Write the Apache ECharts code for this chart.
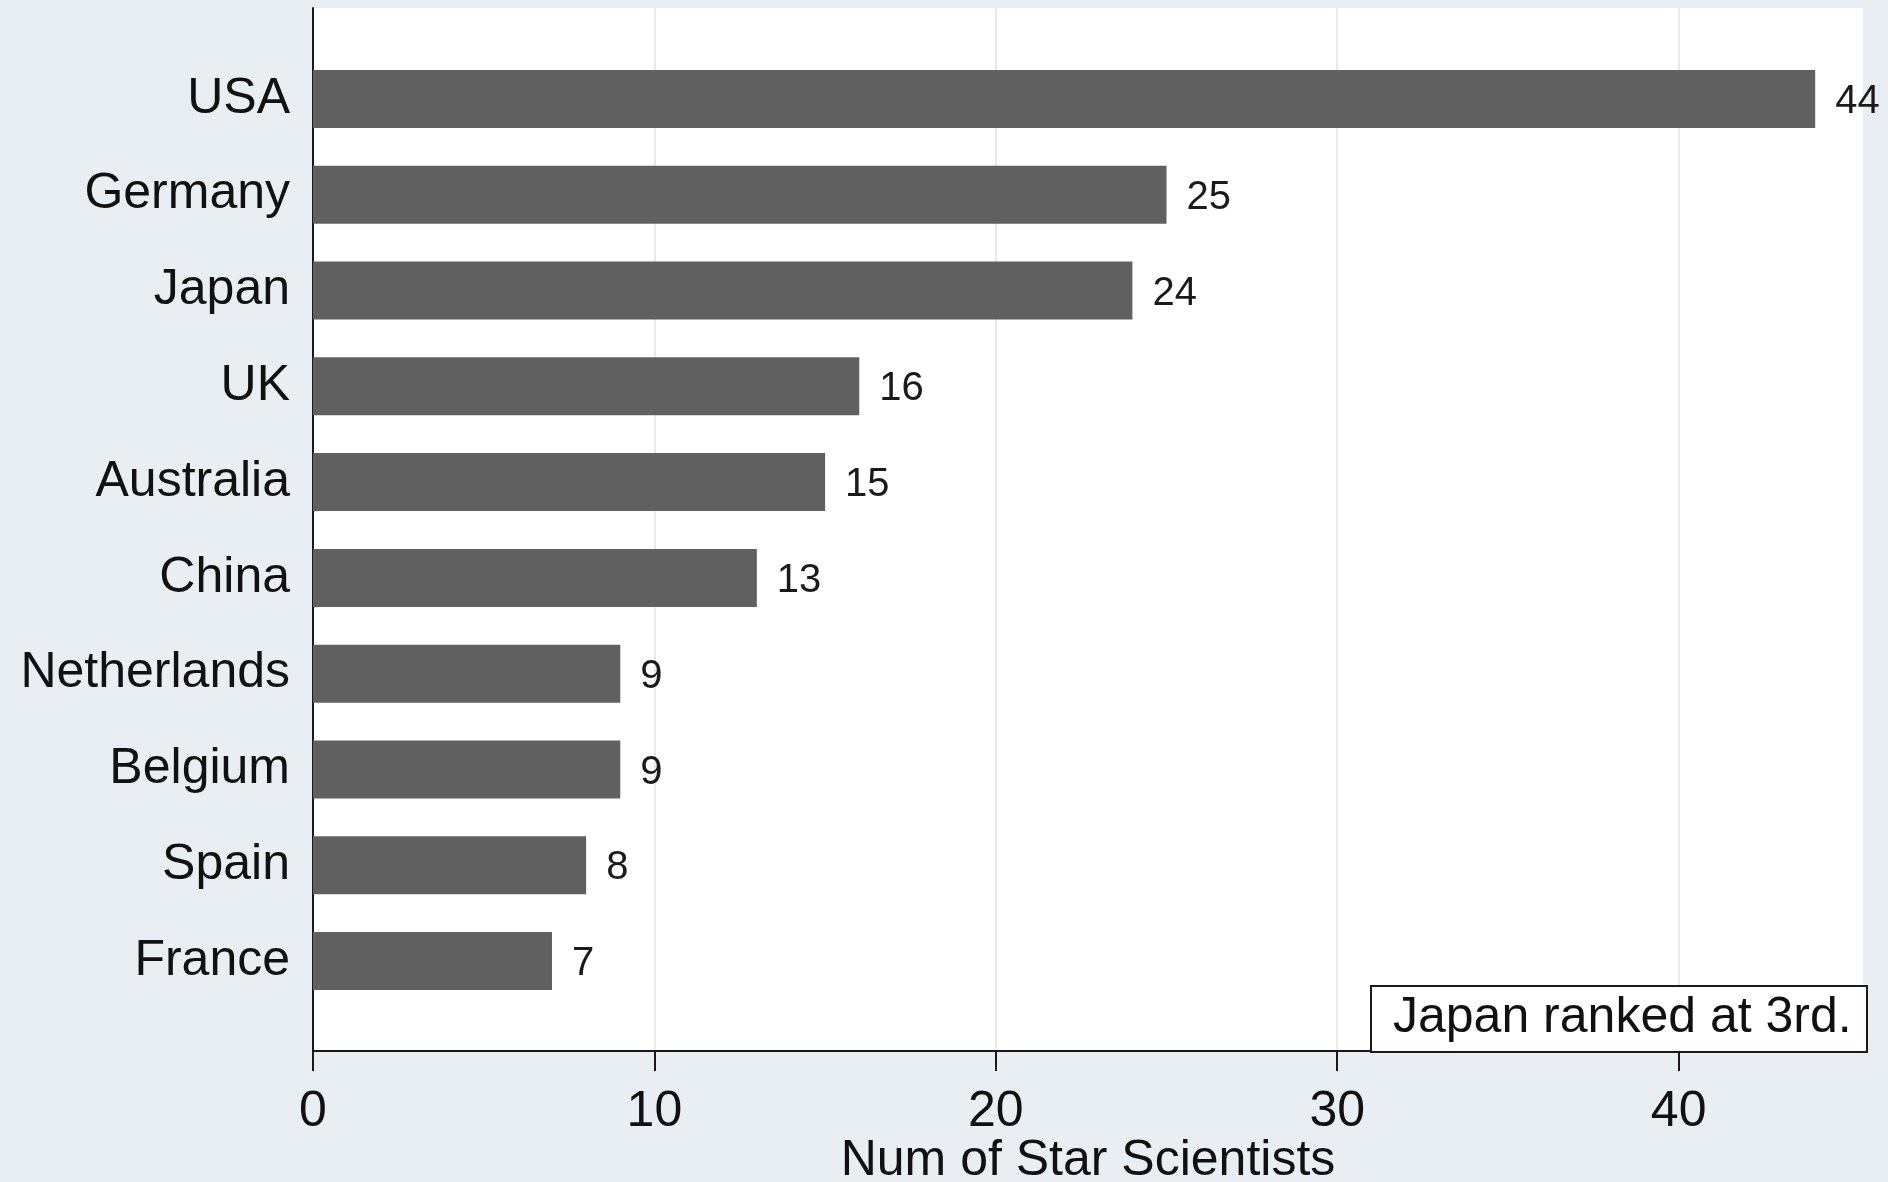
<!DOCTYPE html>
<html>
<head>
<meta charset="utf-8">
<script src="https://cdn.jsdelivr.net/npm/echarts@6/dist/echarts.min.js"></script>
<style>
html,body{margin:0;padding:0;background:#e8eef1;}
#chart{width:1888px;height:1182px;}
</style>
</head>
<body>
<div id="chart"></div>
<script>
const countries = ['USA','Germany','Japan','UK','Australia','China','Netherlands','Belgium','Spain','France'];
const starScientists = [44,25,24,16,15,13,9,9,8,7];
const xTicks = [0,10,20,30,40];
const axisTitle = 'Num of Star Scientists';
const noteText = 'Japan ranked at 3rd.';

const FONT = '"Liberation Sans", Arial, Helvetica, sans-serif';
const chart = echarts.init(document.getElementById('chart'), null, {renderer:'canvas'});

const XMAX = 45.4;

chart.setOption({
  backgroundColor: '#e8eef1',
  animation: false,
  textStyle: {fontFamily: FONT},
  grid: [
    {left: 313, right: 25, top: 8, bottom: 131, show: true, backgroundColor: '#ffffff', borderWidth: 0, containLabel: false, outerBoundsMode: 'none'},
    {left: 313, right: 25, top: 51, bottom: 173, containLabel: false, outerBoundsMode: 'none'}
  ],
  xAxis: [
    {
      gridIndex: 0, type: 'value', min: 0, max: XMAX, interval: 10,
      axisLine: {show: true, lineStyle: {color: '#1a1a1a', width: 2}},
      axisTick: {show: true, length: 20, lineStyle: {color: '#1a1a1a', width: 2}, customValues: xTicks},
      axisLabel: {show: true, customValues: xTicks, fontSize: 50, color: '#111', margin: 36, fontFamily: FONT},
      splitLine: {show: true, lineStyle: {color: '#e9e9e9', width: 2}},
      name: axisTitle, nameLocation: 'middle', nameGap: 85, nameMoveOverlap: false,
      nameTextStyle: {fontSize: 50, color: '#111', fontFamily: FONT}
    },
    {
      gridIndex: 1, type: 'value', min: 0, max: XMAX, interval: 10, show: false
    }
  ],
  yAxis: [
    {
      gridIndex: 0, type: 'value', min: 0, max: 1,
      axisLine: {show: true, lineStyle: {color: '#1a1a1a', width: 2}},
      axisTick: {show: false}, axisLabel: {show: false}, splitLine: {show: false}
    },
    {
      gridIndex: 1, type: 'category', data: countries, inverse: true,
      axisLine: {show: false}, axisTick: {show: false}, splitLine: {show: false},
      axisLabel: {fontSize: 50, color: '#111', margin: 23, fontFamily: FONT}
    }
  ],
  series: [{
    type: 'bar', xAxisIndex: 1, yAxisIndex: 1,
    data: starScientists, barWidth: 58,
    itemStyle: {color: '#606060'},
    label: {show: true, position: 'right', distance: 20, offset: [0, 3], fontSize: 40, color: '#1a1a1a', fontFamily: FONT}
  }],
  graphic: [
    {type: 'rect', z: 100, left: 1370, top: 985, shape: {x: 0, y: 0, width: 496, height: 66}, style: {fill: '#ffffff', stroke: '#1a1a1a', lineWidth: 2}},
    {type: 'text', z: 101, left: 1393, top: 993, style: {text: noteText, font: '50px ' + FONT, fill: '#111'}}
  ]
});
</script>
</body>
</html>
